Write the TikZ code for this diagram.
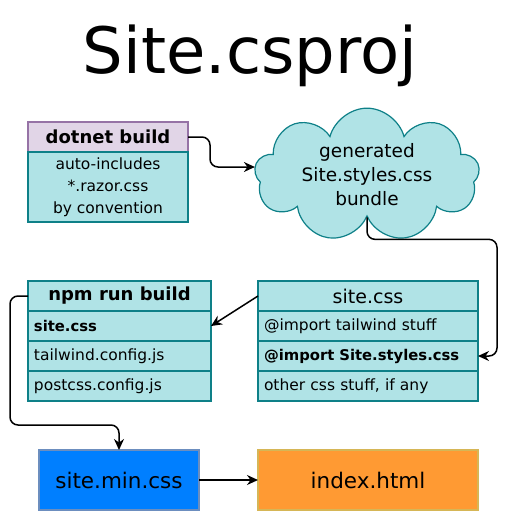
\documentclass[tikz,border=0pt]{standalone}
\usepackage{fontspec}
\setmainfont{DejaVu Sans}
\usetikzlibrary{positioning,shapes.symbols,arrows.meta}

\definecolor{tealfill}{HTML}{B0E3E6}
\definecolor{tealline}{HTML}{0E8088}
\definecolor{lilacfill}{HTML}{E1D5E7}
\definecolor{lilacline}{HTML}{9673A6}
\definecolor{bluefill}{HTML}{007FFF}
\definecolor{blueline}{HTML}{6C8EBF}
\definecolor{orangefill}{HTML}{FF9A33}
\definecolor{orangeline}{HTML}{D6B656}

\tikzset{
  box/.style={draw=tealline, fill=tealfill, line width=1.2pt, inner sep=0pt, outer sep=0pt, align=center},
  header/.style={box, minimum height=30pt, font=\fontsize{18}{20}\selectfont},
  cell/.style={box, minimum height=30pt, inner xsep=6pt, align=left,
    font=\fontsize{15.5}{18}\selectfont},
  boldcell/.style={cell, font=\fontsize{14.8}{18}\selectfont\bfseries},
  link/.style={line width=1.5pt, rounded corners=8pt, -{Stealth[length=11pt,width=10pt]}},
}

\begin{document}
\begin{tikzpicture}[x=1pt,y=-1pt]
  \useasboundingbox (0,0) rectangle (508,512);

  % Title
  \node (title) at (250,56) {\fontsize{64}{64}\selectfont Site.csproj};

  % dotnet build
  \node[header, draw=lilacline, fill=lilacfill, minimum width=160pt, anchor=north west,
    font=\fontsize{18}{20}\selectfont\bfseries] (dotnet) at (28,122) {dotnet build};
  \node[box, minimum width=160pt, minimum height=70pt, below=0pt of dotnet,
    font=\fontsize{15.5}{22}\selectfont] (dotnetbody) {auto-includes\\*.razor.css\\by convention};

  % Generated bundle
  \node[cloud, cloud puffs=9, aspect=2.2, draw=tealline, fill=tealfill, line width=1.2pt,
    minimum width=225pt, minimum height=104pt, align=center, inner sep=0pt,
    font=\fontsize{18.5}{24}\selectfont] (bundle) at (367,175) {generated\\Site.styles.css\\bundle};

  % npm run build table
  \node[header, minimum width=183pt, anchor=north west, font=\fontsize{18}{20}\selectfont\bfseries]
    (npm) at (28,281) {npm run build};
  \node[boldcell, text width=171pt, below=0pt of npm] (npmsite) {site.css};
  \node[cell, text width=171pt, below=0pt of npmsite] (npmtw) {tailwind.config.js};
  \node[cell, text width=171pt, below=0pt of npmtw] (npmpost) {postcss.config.js};

  % site.css table
  \node[header, minimum width=220pt, anchor=north west, font=\fontsize{19}{20}\selectfont]
    (sitecss) at (258,281) {site.css};
  \node[cell, text width=208pt, below=0pt of sitecss] (imptw) {@import tailwind stuff};
  \node[boldcell, text width=208pt, below=0pt of imptw] (impstyles) {@import Site.styles.css};
  \node[cell, text width=208pt, below=0pt of impstyles] (other) {other css stuff, if any};

  % Outputs
  \node[box, draw=blueline, fill=bluefill, minimum width=160pt, minimum height=60pt, anchor=north west,
    font=\fontsize{21.5}{24}\selectfont] (sitemin) at (39,450) {site.min.css};
  \node[box, draw=orangeline, fill=orangefill, minimum width=220pt, minimum height=60pt, anchor=north west,
    font=\fontsize{21.5}{24}\selectfont] (index) at (258,450) {index.html};

  % Connectors
  \draw[link] (dotnet.east) -- ++(22,0) |- ([yshift=8pt]bundle.west);
  \draw[link] (bundle.south) -- ++(0,22) -| ([xshift=19pt]impstyles.east) -- (impstyles.east);
  \draw[link] (sitecss.west) -- (npmsite.east);
  \draw[link] (npm.west) -- ++(-18,0) -- ++(0,129) -| (sitemin.north);
  \draw[link] (sitemin.east) -- (index.west);
\end{tikzpicture}
\end{document}
